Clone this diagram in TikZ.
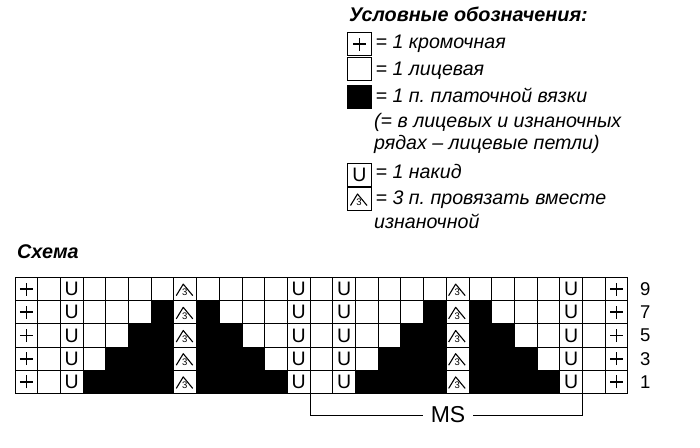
\documentclass[tikz,border=0pt]{standalone}
\usepackage{fontspec}
\setmainfont{Liberation Sans}
\usepackage{tikz}
\usetikzlibrary{calc}
\frenchspacing
\newcommand{\headfont}{\bfseries\itshape\fontsize{19.8}{24}\selectfont}
\newcommand{\legfont}{\itshape\fontsize{19.6}{23}\selectfont}
\newcommand{\numfont}{\fontsize{18.5}{20}\selectfont}
\tikzstyle{cell} = [draw,line width=1pt,minimum width=22.7pt,minimum height=23.2pt,inner sep=0pt,outer sep=0pt]
\tikzstyle{kn} = [cell,fill=white,node contents={}]
\tikzstyle{ga} = [cell,fill=black,node contents={}]
\tikzstyle{yo} = [cell,fill=white,font=\fontsize{19.5}{19.5}\selectfont,node contents={U}]
\tikzstyle{se} = [cell,fill=white,node contents={},path picture={
    \coordinate (pc) at (path picture bounding box.center);
    \draw[line width=1.7pt] (pc) +(-6.5pt,0pt) -- +(6.5pt,0pt) (pc) +(0pt,-6.5pt) -- +(0pt,6.5pt);}]
\tikzstyle{de} = [cell,fill=white,node contents={},path picture={
    \coordinate (pc) at (path picture bounding box.center);
    \draw[line width=1.1pt,line join=round] (pc) +(-9pt,-6.5pt) -- +(-2pt,5pt) -- +(7.5pt,-6.5pt);
    \node[font=\fontsize{9.5}{9.5}\selectfont,inner sep=0pt] at ([xshift=-0.5pt,yshift=-3.5pt]pc) {3};}]
\tikzstyle{key} = [minimum width=24pt,minimum height=23pt]

\begin{document}
\begin{tikzpicture}[x=1pt,y=-1pt]
\useasboundingbox (0,0) rectangle (700,447);

% Legend
    \node[font=\headfont,anchor=base west,inner sep=0pt] (legtitle) at (349,21) {Условные обозначения:};
    \node (keyse) at (359.5,44) [se,key];
    \node (keykn) at (359.5,69) [kn,key];
    \node (keyga) at (359.5,97) [ga,key];
    \node (keyyo) at (359.5,175) [yo,key];
    \node (keyde) at (359.5,199) [de,key];
    \node[font=\legfont,anchor=base west,inner sep=0pt] (txtse) at (375.5,48) {= 1 кромочная};
    \node[font=\legfont,anchor=base west,inner sep=0pt] (txtkn) at (375.5,75) {= 1 лицевая};
    \node[font=\legfont,anchor=base west,inner sep=0pt] (txtga) at (375.5,102) {= 1 п. платочной вязки};
    \node[font=\legfont,anchor=base west,inner sep=0pt] (txtgb) at (374,127) {(= в лицевых и изнаночных};
    \node[font=\legfont,anchor=base west,inner sep=0pt] (txtgc) at (374,149) {рядах – лицевые петли)};
    \node[font=\legfont,anchor=base west,inner sep=0pt] (txtyo) at (375.5,178) {= 1 накид};
    \node[font=\legfont,anchor=base west,inner sep=0pt] (txtde) at (375.5,204) {= 3 п. провязать вместе};
    \node[font=\legfont,anchor=base west,inner sep=0pt] (txtdf) at (374,228) {изнаночной};

% Chart
    \node[font=\headfont,anchor=base west,inner sep=0pt] (charttitle) at (17,258) {Схема};
    \foreach \r/\codes [count=\i] in {
        9/{se,kn,yo,kn,kn,kn,kn,de,kn,kn,kn,kn,yo,kn,yo,kn,kn,kn,kn,de,kn,kn,kn,kn,yo,kn,se},
        7/{se,kn,yo,kn,kn,kn,ga,de,ga,kn,kn,kn,yo,kn,yo,kn,kn,kn,ga,de,ga,kn,kn,kn,yo,kn,se},
        5/{se,kn,yo,kn,kn,ga,ga,de,ga,ga,kn,kn,yo,kn,yo,kn,kn,ga,ga,de,ga,ga,kn,kn,yo,kn,se},
        3/{se,kn,yo,kn,ga,ga,ga,de,ga,ga,ga,kn,yo,kn,yo,kn,ga,ga,ga,de,ga,ga,ga,kn,yo,kn,se},
        1/{se,kn,yo,ga,ga,ga,ga,de,ga,ga,ga,ga,yo,kn,yo,ga,ga,ga,ga,de,ga,ga,ga,ga,yo,kn,se}} {
      \foreach \t [count=\c] in \codes
        \node (c-\c-\r) at ({15+(\c-0.5)*22.7},{277.5+(\i-0.5)*23.2}) [\t];
      \node[font=\numfont,anchor=west,inner sep=0pt] (num\r) at (640,{277.5+(\i-0.5)*23.2}) {\r};
    }

% Repeat
    \node[font=\fontsize{23}{23}\selectfont,inner xsep=8pt] (ms) at (448,415) {MS};
    \draw[line width=1pt] (ms.west) -| (c-13-1.south east);
    \draw[line width=1pt] (ms.east) -| (c-25-1.south east);

\end{tikzpicture}
\end{document}
